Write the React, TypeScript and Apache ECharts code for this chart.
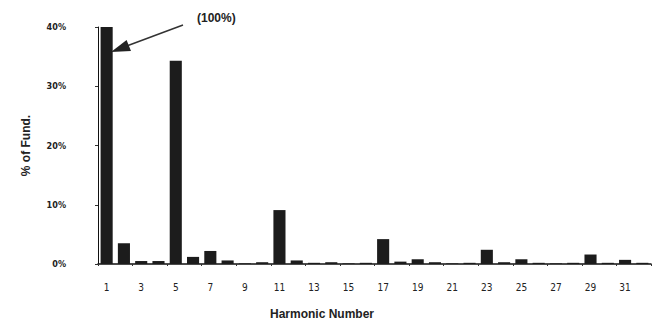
import React, { useEffect, useRef } from "react";
import * as echarts from "echarts";

const harmonics = Array.from({ length: 32 }, (_, i) => String(i + 1));
const percentOfFund = [
  40, 3.5, 0.5, 0.5, 34.3, 1.2, 2.2, 0.6, 0.1, 0.3, 9.1, 0.6, 0.2, 0.3, 0.1, 0.2,
  4.2, 0.4, 0.8, 0.3, 0.1, 0.2, 2.4, 0.3, 0.8, 0.2, 0.1, 0.2, 1.6, 0.2, 0.7, 0.2,
];
const yTicks = [0, 10, 20, 30, 40];

export default function App() {
  const ref = useRef<HTMLDivElement>(null);
  useEffect(() => {
    if (!ref.current) return;
    const chart = echarts.init(ref.current, undefined, { renderer: "svg" });
    const font = "'DejaVu Sans Condensed', 'DejaVu Sans', sans-serif";
    chart.setOption({
      animation: false,
      backgroundColor: "#fff",
      grid: { left: 98, right: 6, top: 27, bottom: 67 },
      xAxis: {
        type: "category",
        data: harmonics,
        axisLine: { lineStyle: { color: "#111", width: 1.5 } },
        axisTick: { show: true, length: 2, lineStyle: { color: "#333" } },
        axisLabel: {
          interval: 1,
          margin: 18,
          color: "#222",
          fontSize: 10,
          fontFamily: font,
        },
      },
      yAxis: {
        type: "value",
        min: 0,
        max: 40,
        interval: 10,
        splitLine: { show: false },
        axisLine: { show: true, lineStyle: { color: "#111", width: 1 } },
        axisTick: { show: true, length: 3, lineStyle: { color: "#333" } },
        axisLabel: {
          margin: 32,
          color: "#222",
          fontSize: 9,
          fontWeight: "bold",
          fontFamily: font,
          formatter: (v: number) => (yTicks.includes(v) ? v + "%" : ""),
        },
        name: "% of Fund.",
        nameLocation: "middle",
        nameGap: 66,
        nameTextStyle: {
          color: "#222",
          fontSize: 12,
          fontWeight: "bold",
          fontFamily: "'Liberation Sans', Arial, sans-serif",
        },
      },
      series: [
        {
          type: "bar",
          data: percentOfFund,
          barWidth: "70%",
          itemStyle: { color: "#1c1c1c" },
        },
      ],
      graphic: [
        {
          type: "text",
          left: 197,
          top: 12,
          style: {
            text: "(100%)",
            fill: "#222",
            font: "bold 12px 'Liberation Sans', Arial, sans-serif",
          },
        },
        {
          type: "line",
          shape: { x1: 183, y1: 25, x2: 124, y2: 47 },
          style: { stroke: "#333", lineWidth: 1.5 },
        },
        {
          type: "polygon",
          shape: { points: [[111, 52], [131, 51], [126.6, 39.9]] },
          style: { fill: "#222" },
        },
        {
          type: "text",
          left: 270,
          top: 308,
          style: {
            text: "Harmonic Number",
            fill: "#222",
            font: "bold 12px 'Liberation Sans', Arial, sans-serif",
          },
        },
      ],
    });
    return () => chart.dispose();
  }, []);
  return <div ref={ref} style={{ width: 657, height: 331, position: "absolute", left: 0, top: 0 }} />;
}
